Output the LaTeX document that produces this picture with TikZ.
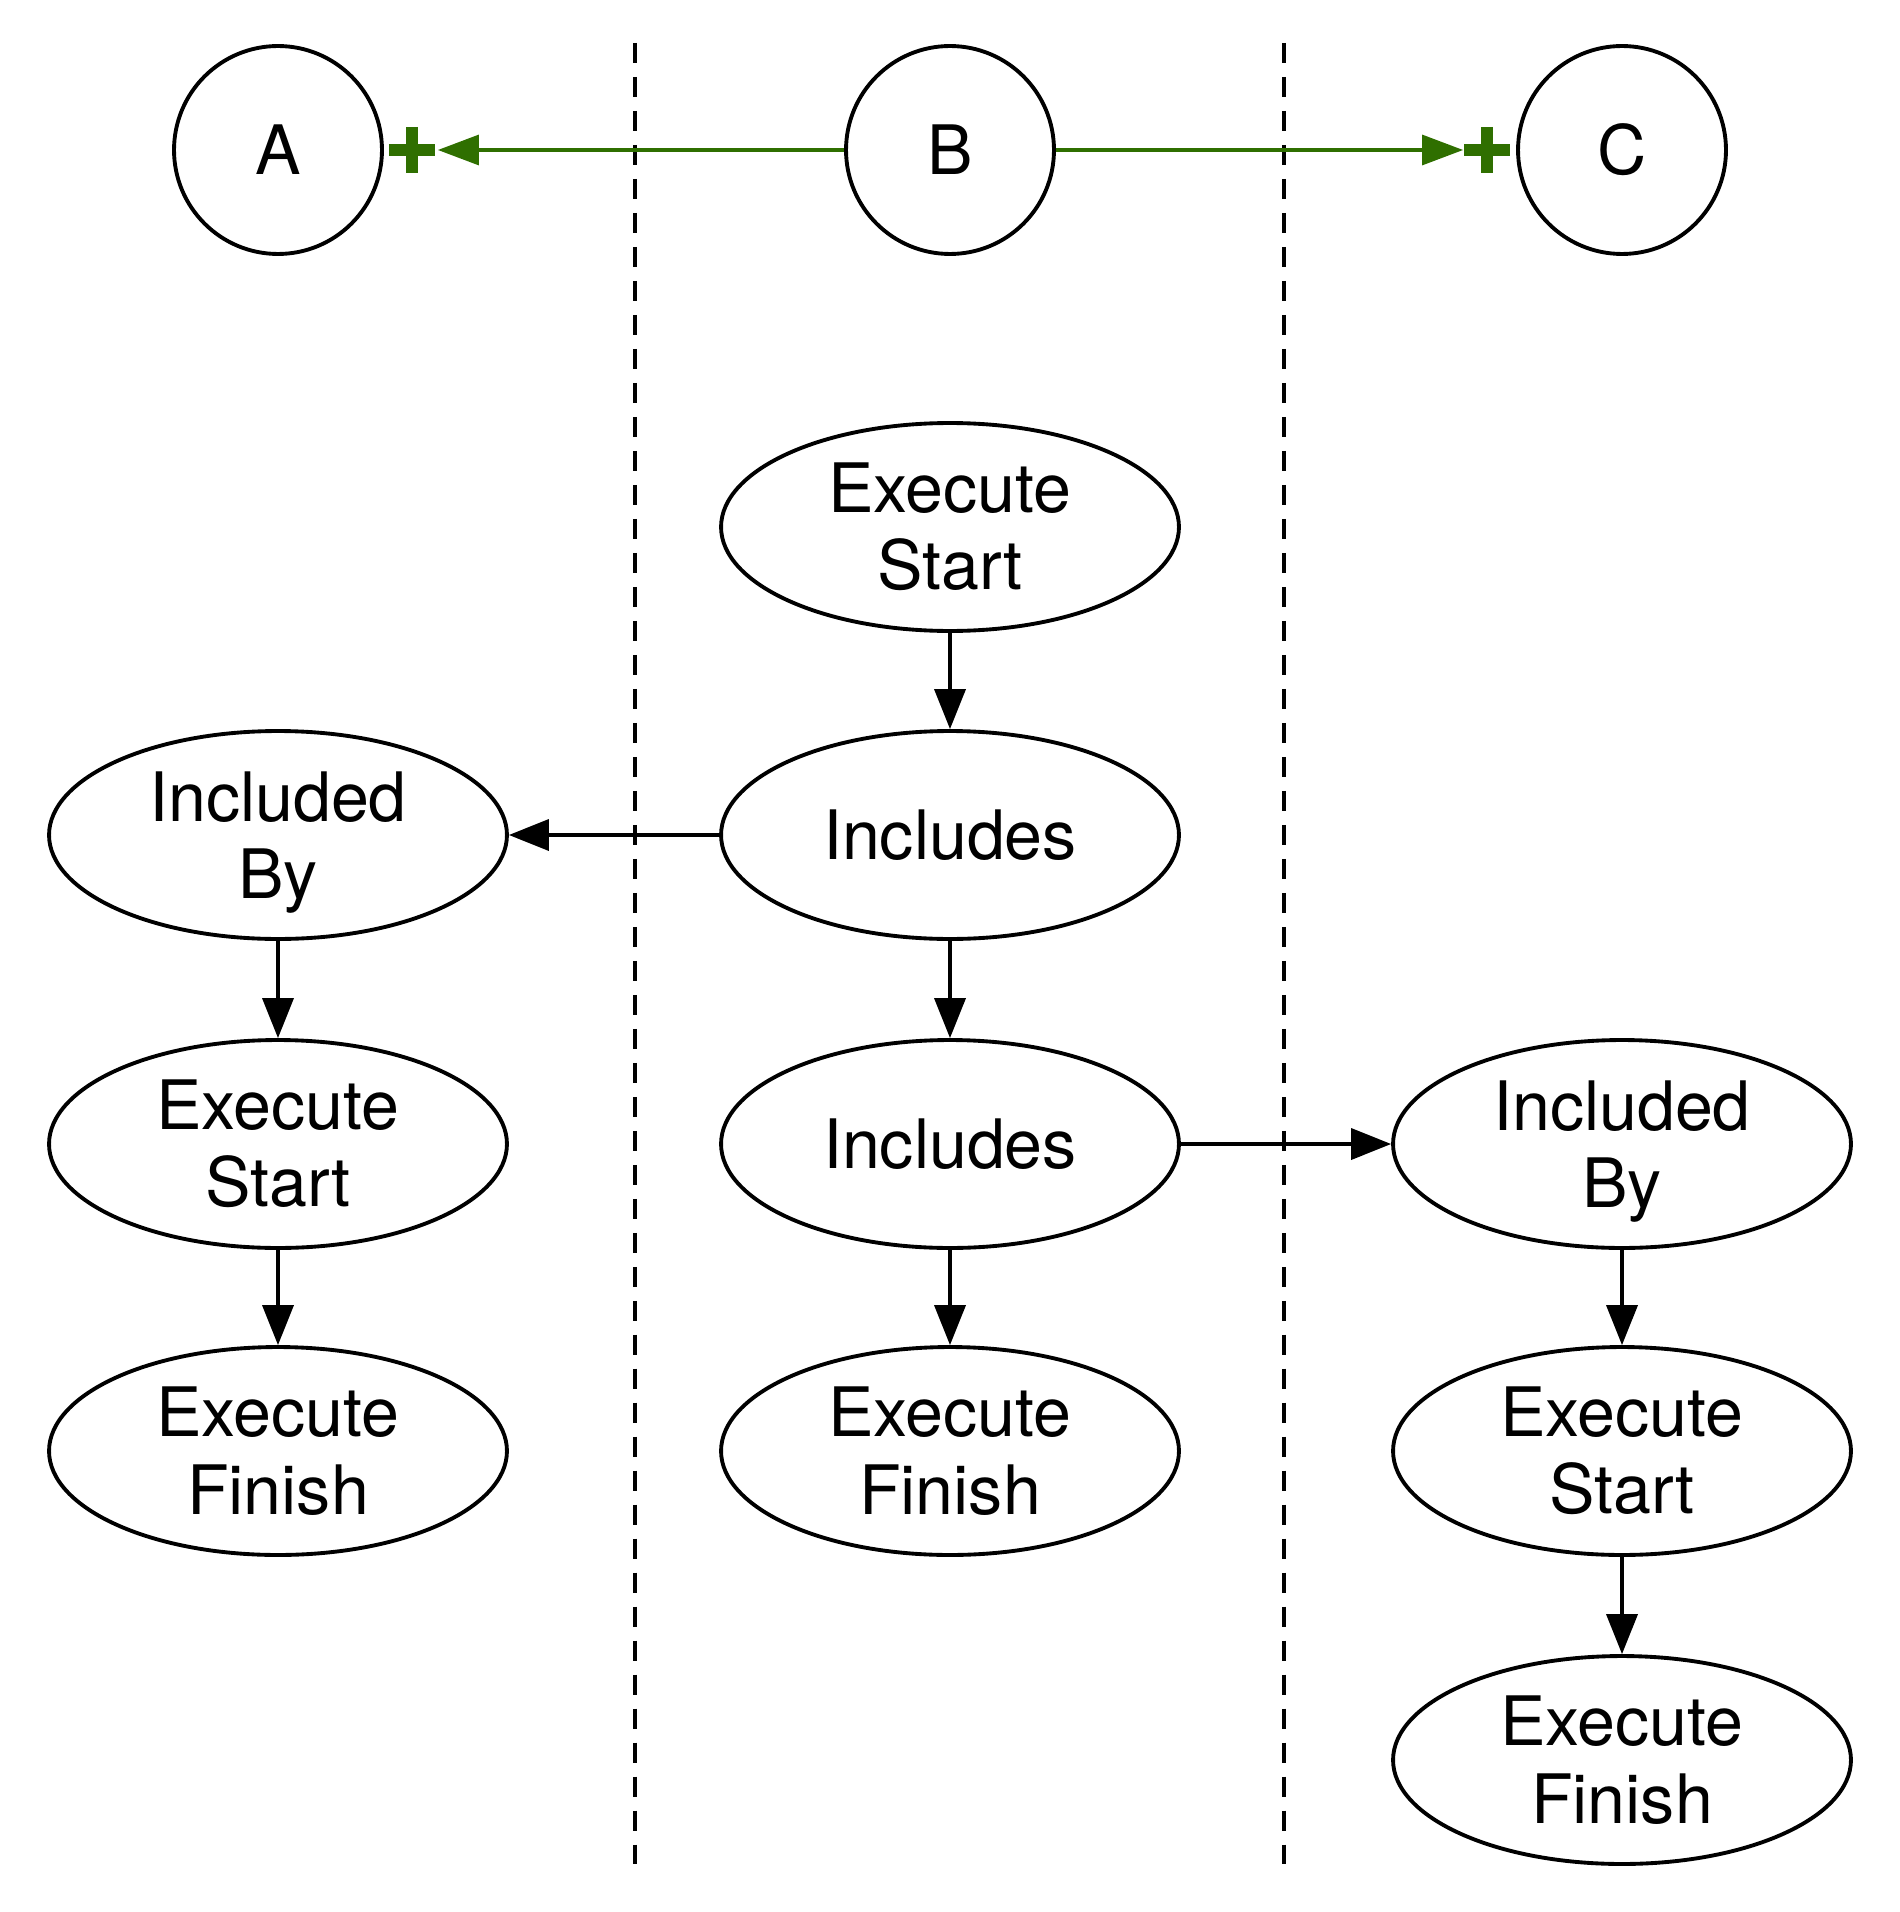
\documentclass[tikz,border=0pt]{standalone}
\usepackage{fontspec}
\setmainfont{TeX Gyre Heros}
\usetikzlibrary{shapes.geometric,arrows.meta}
\definecolor{gr}{HTML}{2F6F00}
\tikzset{
  lbl/.style={font=\fontsize{38.8}{44}\selectfont, align=center, inner sep=0pt},
  oval/.style={lbl, ellipse, draw, line width=2.2pt, minimum width=9.16cm, minimum height=4.16cm},
  circ/.style={lbl, circle, draw, line width=2.2pt, minimum size=4.16cm},
  arr/.style={line width=2.1pt, -{Triangle[length=0.8cm,width=0.62cm]}},
  garr/.style={gr, line width=1.8pt, -{Triangle[length=0.82cm,width=0.6cm]}},
  plusarm/.style={gr, line width=0.24cm},
  sep/.style={line width=1.8pt, dash pattern=on 0.4cm off 0.28cm}
}
\begin{document}
\begin{tikzpicture}[x=0.02cm,y=-0.02cm]
\useasboundingbox (0,0) rectangle (1899,1912);
% separators
\draw[sep] (635,43) -- (635,1864);
\draw[sep] (1284,43) -- (1284,1864);
% circles
\node[circ] (A) at (278,150) {A};
\node[circ] (B) at (950,150) {B};
\node[circ] (C) at (1622,150) {C};
% column B
\node[oval] (b1) at (950,527) {Execute\\Start};
\node[oval] (b2) at (950,835) {Includes};
\node[oval] (b3) at (950,1144) {Includes};
\node[oval] (b4) at (950,1451) {Execute\\Finish};
% column A
\node[oval] (a1) at (278,835) {Included\\B\smash{y}};
\node[oval] (a2) at (278,1144) {Execute\\Start};
\node[oval] (a3) at (278,1451) {Execute\\Finish};
% column C
\node[oval] (c1) at (1622,1144) {Included\\B\smash{y}};
\node[oval] (c2) at (1622,1451) {Execute\\Start};
\node[oval] (c3) at (1622,1760) {Execute\\Finish};
% black connectors
\draw[arr] (b1) -- (b2);
\draw[arr] (b2) -- (b3);
\draw[arr] (b3) -- (b4);
\draw[arr] (b2) -- (a1);
\draw[arr] (a1) -- (a2);
\draw[arr] (a2) -- (a3);
\draw[arr] (b3) -- (c1);
\draw[arr] (c1) -- (c2);
\draw[arr] (c2) -- (c3);
% green connectors
\draw[garr, shorten >=1.08cm] (B) -- (A);
\draw[garr, shorten >=1.06cm] (B) -- (C);
\coordinate (pa) at ([xshift=0.56cm]A.east);
\coordinate (pc) at ([xshift=-0.58cm]C.west);
\foreach \p in {pa,pc}{
  \draw[plusarm] (\p) ++(-23,0) -- ++(46,0);
  \draw[plusarm] (\p) ++(0,-23) -- ++(0,46);
}
\end{tikzpicture}
\end{document}
